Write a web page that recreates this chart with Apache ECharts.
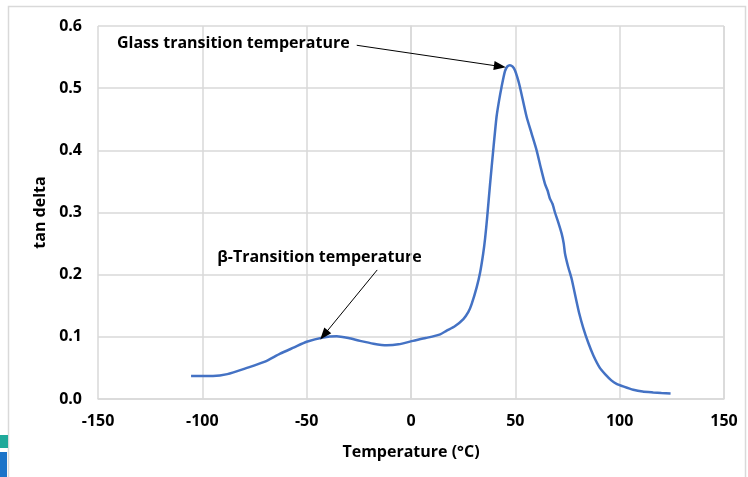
<!DOCTYPE html>
<html>
<head>
<meta charset="utf-8">
<script src="https://cdn.jsdelivr.net/npm/echarts@6/dist/echarts.min.js"></script>
<style>
  html, body { margin: 0; padding: 0; background: #fff; }
  #chart { width: 748px; height: 477px; }
</style>
</head>
<body>
<div id="chart"></div>
<script>
// temperature (°C) and tan delta
const temps = [
  -105.4, -100, -94.9, -88, -78.6, -70, -62.7, -56, -50, -42.1, -35.6, -30, -24.4, -18,
  -11.6, -6, 1, 7, 14, 17.1, 21, 25.1, 27.5, 29.1, 31.5, 33.1, 34.6, 35.5, 36.5, 37.9, 39.4,
  41, 42.2, 43.4, 45, 46.2, 47.4, 48.6, 49.8, 51, 52.2, 55.4, 57.8, 60.2, 62.2, 64.2,
  65.5, 66.5, 67.8, 69, 70.5, 72.2, 73.2, 73.8, 75.2, 77, 79, 80.6, 82.5, 85, 87.4,
  90.5, 93, 96, 98.5, 102, 106.5, 111, 116.1, 120, 124.4
]
const tanDelta = [
  0.037, 0.037, 0.037, 0.040, 0.050, 0.060, 0.073, 0.083, 0.092, 0.099, 0.101, 0.098, 0.0935, 0.089,
  0.0865, 0.088, 0.0935, 0.098, 0.104, 0.110, 0.117, 0.1285, 0.140, 0.153, 0.180, 0.203, 0.234, 0.258, 0.292, 0.346, 0.400,
  0.454, 0.480, 0.502, 0.527, 0.535, 0.537, 0.535, 0.529, 0.517, 0.502, 0.454, 0.427, 0.400, 0.372, 0.346,
  0.335, 0.323, 0.314, 0.300, 0.285, 0.266, 0.250, 0.234, 0.214, 0.193, 0.162, 0.138, 0.115, 0.090, 0.070,
  0.050, 0.040, 0.030, 0.0245, 0.020, 0.015, 0.012, 0.0105, 0.0095, 0.0087
]

// annotations: text anchor, arrow start and arrow tip, all in data units
const notes = [
  { text: 'Glass transition temperature', at: [-140.9, 0.5726], align: 'left', from: [-26.0, 0.569], to: [42.6, 0.535] },
  { text: 'β-Transition temperature', at: [-43.9, 0.2274], align: 'center', from: [-16.2, 0.2076], to: [-41.7, 0.103] },
]

const FONT = '"Open Sans", "Noto Sans", sans-serif'
const FS = 16
const GRID = '#d9d9d9'
const LINE = '#4472c4'

const chart = echarts.init(document.getElementById('chart'), null, { renderer: 'canvas' })

chart.setOption({
  backgroundColor: '#fff',
  animation: false,
  grid: { left: 98, right: 24, top: 26, bottom: 78, containLabel: false },
  xAxis: {
    type: 'value',
    min: -150,
    max: 150,
    interval: 50,
    name: 'Temperature (°C)',
    nameLocation: 'middle',
    nameGap: 45,
    nameTextStyle: { fontFamily: FONT, fontSize: FS, fontWeight: 'bold', color: '#000' },
    axisLabel: { fontFamily: FONT, fontSize: FS, fontWeight: 'bold', color: '#000', margin: 14 },
    axisLine: { show: true, lineStyle: { color: GRID, width: 1.5 } },
    axisTick: { show: false },
    splitLine: { show: true, lineStyle: { color: GRID, width: 1.5 } },
  },
  yAxis: {
    type: 'value',
    min: 0,
    max: 0.6,
    interval: 0.1,
    name: 'tan delta',
    nameLocation: 'middle',
    nameGap: 46,
    nameRotate: 90,
    nameTextStyle: { fontFamily: FONT, fontSize: FS, fontWeight: 'bold', color: '#000' },
    axisLabel: { fontFamily: FONT, fontSize: FS, fontWeight: 'bold', color: '#000', margin: 16, formatter: v => v.toFixed(1) },
    axisLine: { show: true, lineStyle: { color: GRID, width: 1.5 } },
    axisTick: { show: false },
    splitLine: { show: true, lineStyle: { color: GRID, width: 1.5 } },
  },
  series: [
    {
      type: 'line',
      data: temps.map((t, i) => [t, tanDelta[i]]),
      smooth: 0.2,
      symbol: 'none',
      lineStyle: { color: LINE, width: 2.5 },
      markLine: {
        silent: true,
        symbol: ['none', 'triangle'],
        symbolSize: [9, 12],
        label: { show: false },
        lineStyle: { color: '#000', width: 1, type: 'solid' },
        data: notes.map(n => [{ coord: n.from }, { coord: n.to }]),
      },
    },
  ],
})

// right-hand plot border, annotation texts and the outer frame
const [xr, yt] = chart.convertToPixel({ gridIndex: 0 }, [150, 0.6])
const [, yb] = chart.convertToPixel({ gridIndex: 0 }, [150, 0])
const graphics = [
  { type: 'rect', shape: { x: 8.5, y: 6.5, width: 737, height: 480 }, style: { fill: 'none', stroke: '#d9d9d9', lineWidth: 1.5 }, silent: true },
  { type: 'line', shape: { x1: xr, y1: yt, x2: xr, y2: yb }, style: { stroke: GRID, lineWidth: 1.5 }, silent: true },
  { type: 'rect', shape: { x: 0, y: 435, width: 8, height: 13 }, style: { fill: '#1fa99a' }, silent: true },
  { type: 'rect', shape: { x: 0, y: 452, width: 7, height: 25 }, style: { fill: '#1a73c9' }, silent: true },
]
notes.forEach(n => {
  const [px, py] = chart.convertToPixel({ gridIndex: 0 }, n.at)
  graphics.push({
    type: 'text',
    x: px,
    y: py,
    silent: true,
    style: {
      text: n.text,
      fontFamily: FONT,
      fontSize: FS,
      fontWeight: 'bold',
      fill: '#000',
      align: n.align,
      verticalAlign: 'middle',
    },
  })
})
chart.setOption({ graphic: graphics })
</script>
</body>
</html>
